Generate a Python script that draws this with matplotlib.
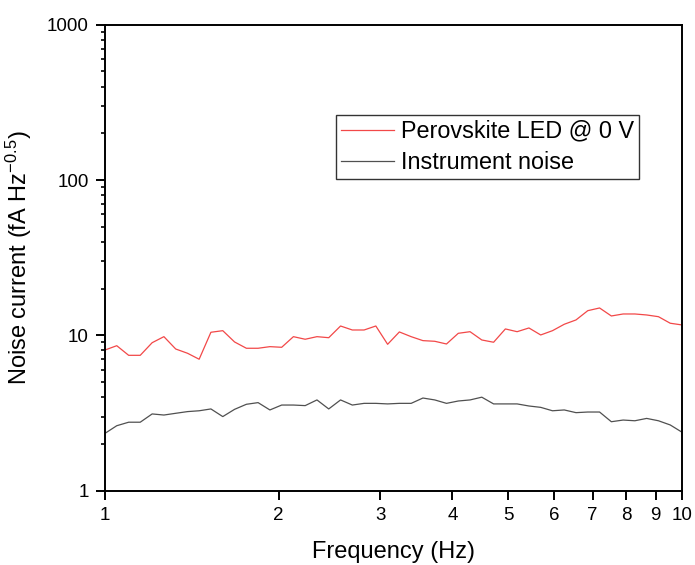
import matplotlib
matplotlib.use("Agg")
import matplotlib.pyplot as plt
from matplotlib.ticker import LogLocator, NullFormatter, FixedLocator, FixedFormatter

plt.rcParams['font.family'] = ['Liberation Sans', 'DejaVu Sans']
plt.rcParams['axes.unicode_minus'] = False
plt.rcParams['mathtext.fontset'] = 'custom'
plt.rcParams['mathtext.rm'] = 'Liberation Sans'
plt.rcParams['mathtext.it'] = 'Liberation Sans'
plt.rcParams['mathtext.default'] = 'regular'

freq = [1.000, 1.048, 1.099, 1.151, 1.207, 1.265, 1.326, 1.390, 1.456, 1.526,
        1.600, 1.677, 1.758, 1.842, 1.931, 2.024, 2.121, 2.223, 2.330, 2.442,
        2.560, 2.683, 2.812, 2.947, 3.089, 3.237, 3.393, 3.556, 3.728, 3.907,
        4.095, 4.292, 4.498, 4.715, 4.942, 5.179, 5.429, 5.690, 5.964, 6.251,
        6.551, 6.866, 7.197, 7.543, 7.906, 8.286, 8.685, 9.103, 9.541, 10.000]

perovskite = [8.05, 8.58, 7.44, 7.44, 8.97, 9.81, 8.17, 7.67, 7.02, 10.47,
              10.72, 9.07, 8.26, 8.26, 8.46, 8.38, 9.81, 9.44, 9.81, 9.66,
              11.49, 10.83, 10.83, 11.49, 8.76, 10.52, 9.81, 9.25, 9.16, 8.80,
              10.31, 10.56, 9.34, 9.03, 11.00, 10.56, 11.16, 10.06, 10.72, 11.79,
              12.57, 14.42, 15.01, 13.33, 13.73, 13.73, 13.53, 13.19, 11.97, 11.67]

instrument = [2.34, 2.62, 2.76, 2.76, 3.12, 3.07, 3.15, 3.23, 3.27, 3.36,
              3.00, 3.34, 3.60, 3.69, 3.31, 3.56, 3.56, 3.53, 3.84, 3.36,
              3.84, 3.56, 3.65, 3.65, 3.62, 3.65, 3.65, 3.95, 3.84, 3.65,
              3.78, 3.84, 4.00, 3.62, 3.62, 3.62, 3.51, 3.44, 3.27, 3.31,
              3.18, 3.21, 3.21, 2.78, 2.85, 2.82, 2.92, 2.82, 2.65, 2.38]

x_ticks = [1, 2, 3, 4, 5, 6, 7, 8, 9, 10]
x_ticklabels = ['1', '2', '3', '4', '5', '6', '7', '8', '9', '10']
y_ticks = [1, 10, 100, 1000]
y_ticklabels = ['1', '10', '100', '1000']

fig = plt.figure(figsize=(6.95, 5.65), dpi=100)
ax = fig.add_axes([105/695, 1-490.7/565, (682-105)/695, (490.7-24.7)/565])

ax.plot(freq, perovskite, color='#f24848', lw=0.9, label='Perovskite LED @ 0 V')
ax.plot(freq, instrument, color='#505050', lw=0.9, label='Instrument noise')

ax.set_xscale('log')
ax.set_yscale('log')
ax.set_xlim(1, 10)
ax.set_ylim(1, 1000)

ax.xaxis.set_major_locator(FixedLocator(x_ticks))
ax.xaxis.set_major_formatter(FixedFormatter(x_ticklabels))
ax.xaxis.set_minor_locator(FixedLocator([]))
ax.xaxis.set_minor_formatter(NullFormatter())

ax.yaxis.set_major_locator(FixedLocator(y_ticks))
ax.yaxis.set_major_formatter(FixedFormatter(y_ticklabels))
ax.yaxis.set_minor_locator(LogLocator(base=10, subs=[2, 3, 4, 5, 6, 7, 8, 9]))
ax.yaxis.set_minor_formatter(NullFormatter())

for s in ax.spines.values():
    s.set_linewidth(1.4)

ax.tick_params(which='major', direction='out', length=6.7, width=1.4,
               labelsize=13.5, pad=5, top=False, right=False)
ax.tick_params(which='minor', direction='out', length=3.1, width=1.2,
               top=False, right=False)

ax.set_xlabel('Frequency (Hz)', fontsize=17, labelpad=12)
ax.set_ylabel('Noise current (fA Hz$^{-0.5}$)', fontsize=17, labelpad=9)

leg = ax.legend(loc='upper left', bbox_to_anchor=(336/695, 1-115/565),
                bbox_transform=fig.transFigure, fontsize=16.8, frameon=True,
                fancybox=False, shadow=False, borderaxespad=0, borderpad=0.2,
                handlelength=2.3, handletextpad=0.3, labelspacing=0.36)
leg.get_frame().set_edgecolor('black')
leg.get_frame().set_linewidth(1.0)

fig.savefig('out.png', dpi=100)
